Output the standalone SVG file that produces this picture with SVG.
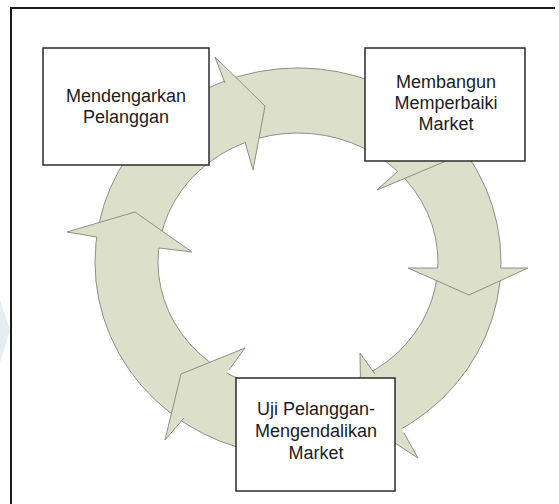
<svg xmlns="http://www.w3.org/2000/svg" width="559" height="504" viewBox="0 0 559 504">
<style>
.ring{fill:#dcdfca;stroke:#8e8f86;stroke-width:1;fill-rule:evenodd}
.head{fill:#dcdfca;stroke:#8e8f86;stroke-width:1;stroke-linejoin:miter}
.box{fill:#ffffff;stroke:#2b2b2b;stroke-width:1.5}
.lbl{font-family:"Liberation Sans",Arial,sans-serif;font-size:18px;fill:#1c1c1c;text-anchor:middle}
.frame{fill:none;stroke:#1a1a1a;stroke-width:2}
</style>
<rect width="559" height="504" fill="#ffffff"/>
<path d="M0,300 L10,330 L0,363 Z" fill="#e3efef"/>
<path class="frame" d="M11,504 L11,8 L555,8"/>
<g id="connectors">
<path class="ring" d="M95,262 a203,194 0 1,0 406,0 a203,194 0 1,0 -406,0 Z M158,262 a140,129 0 1,0 280,0 a140,129 0 1,0 -280,0 Z"/>
<path class="head" d="M225,83 L215,57 L265,106 L253,170 L245,142"/>
<path class="head" d="M398,171 L377,190 L458,156 L455,100 L448,115"/>
<path class="head" d="M501,268 L528,268 L469,295 L408,268 L438,268"/>
<path class="head" d="M375,374 L360,353 L361,421 L418,458 L404,433"/>
<path class="head" d="M229,370 L245,348 L181,374 L165,440 L184,418"/>
<path class="head" d="M159,248 L192,252 L135,212 L67,232 L97,237"/>
</g>
<g id="node1">
<rect class="box" x="43" y="48" width="166" height="117"/>
<text class="lbl" x="126" y="102">Mendengarkan</text>
<text class="lbl" x="126" y="123">Pelanggan</text>
</g>
<g id="node2">
<rect class="box" x="365" y="48" width="160" height="113"/>
<text class="lbl" x="446" y="88">Membangun</text>
<text class="lbl" x="446" y="109">Memperbaiki</text>
<text class="lbl" x="446" y="130">Market</text>
</g>
<g id="node3">
<rect class="box" x="236" y="378" width="159" height="113"/>
<text class="lbl" x="316" y="415">Uji Pelanggan-</text>
<text class="lbl" x="316" y="437">Mengendalikan</text>
<text class="lbl" x="316" y="459">Market</text>
</g>
</svg>
